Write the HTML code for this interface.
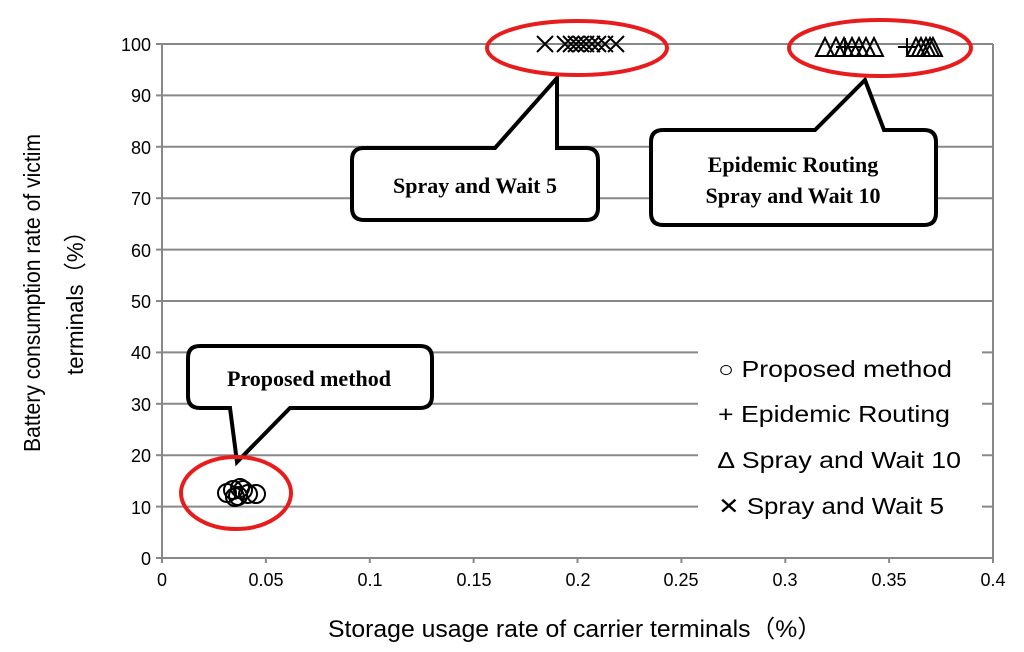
<!DOCTYPE html>
<html><head><meta charset="utf-8"><style>
html,body{margin:0;padding:0;background:#fff;}
svg{display:block;font-family:"Liberation Sans",sans-serif;}
</style></head><body>
<svg width="1024" height="652" viewBox="0 0 1024 652" xmlns="http://www.w3.org/2000/svg">
<g stroke="#888" stroke-width="2">
<line x1="162" y1="44" x2="993" y2="44"/>
<line x1="162" y1="95.4" x2="993" y2="95.4"/>
<line x1="162" y1="146.8" x2="993" y2="146.8"/>
<line x1="162" y1="198.2" x2="993" y2="198.2"/>
<line x1="162" y1="249.6" x2="993" y2="249.6"/>
<line x1="162" y1="301" x2="993" y2="301"/>
<line x1="162" y1="352.4" x2="993" y2="352.4"/>
<line x1="162" y1="403.8" x2="993" y2="403.8"/>
<line x1="162" y1="455.2" x2="993" y2="455.2"/>
<line x1="162" y1="506.6" x2="993" y2="506.6"/>
<line x1="162" y1="558" x2="993" y2="558"/>
<line x1="162" y1="44" x2="162" y2="563"/>
<line x1="993" y1="44" x2="993" y2="558"/>
<line x1="156" y1="44" x2="162" y2="44"/><line x1="156" y1="95.4" x2="162" y2="95.4"/><line x1="156" y1="146.8" x2="162" y2="146.8"/><line x1="156" y1="198.2" x2="162" y2="198.2"/><line x1="156" y1="249.6" x2="162" y2="249.6"/><line x1="156" y1="301" x2="162" y2="301"/><line x1="156" y1="352.4" x2="162" y2="352.4"/><line x1="156" y1="403.8" x2="162" y2="403.8"/><line x1="156" y1="455.2" x2="162" y2="455.2"/><line x1="156" y1="506.6" x2="162" y2="506.6"/><line x1="156" y1="558" x2="162" y2="558"/>
<line x1="265.9" y1="558" x2="265.9" y2="563"/><line x1="369.8" y1="558" x2="369.8" y2="563"/><line x1="473.6" y1="558" x2="473.6" y2="563"/><line x1="577.5" y1="558" x2="577.5" y2="563"/><line x1="681.4" y1="558" x2="681.4" y2="563"/><line x1="785.3" y1="558" x2="785.3" y2="563"/><line x1="889.1" y1="558" x2="889.1" y2="563"/><line x1="993" y1="558" x2="993" y2="563"/>
</g>
<rect x="698" y="345" width="284" height="186" fill="#fff"/>
<g font-size="18" fill="#000" text-anchor="end">
<text x="151" y="51">100</text><text x="151" y="102">90</text><text x="151" y="154">80</text><text x="151" y="205">70</text><text x="151" y="257">60</text><text x="151" y="308">50</text><text x="151" y="359">40</text><text x="151" y="411">30</text><text x="151" y="462">20</text><text x="151" y="514">10</text><text x="151" y="565">0</text>
</g>
<g font-size="18" fill="#000" text-anchor="middle">
<text x="162" y="586">0</text><text x="266" y="586">0.05</text><text x="370" y="586">0.1</text><text x="474" y="586">0.15</text><text x="578" y="586">0.2</text><text x="681" y="586">0.25</text><text x="785" y="586">0.3</text><text x="889" y="586">0.35</text><text x="993" y="586">0.4</text>
</g>
<text x="328" y="637" font-size="24" textLength="494" lengthAdjust="spacingAndGlyphs">Storage usage rate of carrier terminals（%）</text>
<g font-size="23">
<text transform="translate(40,452) rotate(-90)" textLength="318" lengthAdjust="spacingAndGlyphs">Battery consumption rate of victim</text>
<text transform="translate(83,375) rotate(-90)" textLength="155" lengthAdjust="spacingAndGlyphs">terminals（%）</text>
</g>
<g font-size="23">
<text x="718" y="377" textLength="234" lengthAdjust="spacingAndGlyphs">○ Proposed method</text>
<text x="718" y="422" textLength="232" lengthAdjust="spacingAndGlyphs">+ Epidemic Routing</text>
<text x="718" y="468" textLength="243" lengthAdjust="spacingAndGlyphs">∆ Spray and Wait 10</text>
<text x="718" y="514" textLength="226" lengthAdjust="spacingAndGlyphs">✕ Spray and Wait 5</text>
</g>
<g stroke="#000" stroke-width="2" fill="none">
<path d="M537 36l16 16M553 36l-16 16 M557 36l16 16M573 36l-16 16 M563 36l16 16M579 36l-16 16 M568 36l16 16M584 36l-16 16 M573 36l16 16M589 36l-16 16 M578 36l16 16M594 36l-16 16 M584 36l16 16M600 36l-16 16 M590 36l16 16M606 36l-16 16 M597 36l16 16M613 36l-16 16 M608 36l16 16M624 36l-16 16"/>
<path d="M816 56l9-18 9 18z M827 56l9-18 9 18z M835 56l9-18 9 18z M843 56l9-18 9 18z M850 56l9-18 9 18z M857 56l9-18 9 18z M865 56l9-18 9 18z M907 56l9-18 9 18z M912 56l9-18 9 18z M917 56l9-18 9 18z M921 56l9-18 9 18z M924 56l9-18 9 18z"/>
<path d="M898 47h18M907 38v18 M836 47h18M845 38v18 M846 47h18"/>
<circle cx="227" cy="493" r="9"/><circle cx="233" cy="490" r="9"/><circle cx="238" cy="496" r="9"/><circle cx="243" cy="490" r="9"/><circle cx="248" cy="494" r="9"/><circle cx="256" cy="494" r="9"/><circle cx="235" cy="497" r="9"/><circle cx="240" cy="488" r="9"/>
</g>
<g stroke="#000" stroke-width="4" fill="#fff" stroke-linejoin="miter">
<path d="M364 148H495L557 78V148H586Q598 148 598 160V208Q598 220 586 220H364Q352 220 352 208V160Q352 148 364 148Z"/>
<path d="M663 130H815L865 80L884 130H924Q936 130 936 142V213Q936 225 924 225H663Q651 225 651 213V142Q651 130 663 130Z"/>
<path d="M200 346H420Q432 346 432 358V396Q432 408 420 408H290L237 462L230 408H200Q188 408 188 396V358Q188 346 200 346Z"/>
</g>
<g font-family="Liberation Serif,serif" font-weight="bold" font-size="22" text-anchor="middle">
<text x="475" y="193">Spray and Wait 5</text>
<text x="793" y="172">Epidemic Routing</text>
<text x="793" y="203">Spray and Wait 10</text>
<text x="309" y="386">Proposed method</text>
</g>
<g stroke="#e81c1c" stroke-width="4" fill="none">
<ellipse cx="577" cy="48" rx="90" ry="27"/>
<ellipse cx="880" cy="48" rx="91" ry="28"/>
<ellipse cx="236" cy="493" rx="55" ry="36"/>
</g>
</svg>
</body></html>
